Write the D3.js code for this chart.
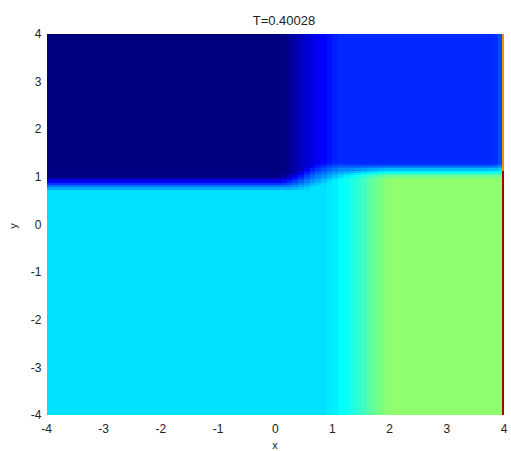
<!DOCTYPE html>
<html>
<head>
<meta charset="utf-8">
<script src="https://cdn.jsdelivr.net/npm/d3@7"></script>
<style>
  body { margin: 0; background: #fff; }
  text { font-family: "Liberation Sans", Arial, sans-serif; fill: #222; }
</style>
</head>
<body>
<div id="chart-area"></div>
<script>
// Chart data (values on a 0..1 jet scale), one entry per 0.1-wide column from x=-4 to x=4
let title = "T=0.40028";
let xTicks = [-4, -3, -2, -1, 0, 1, 2, 3, 4];
let yTicks = [4, 3, 2, 1, 0, -1, -2, -3, -4];

// level above the front
let upperLevel = [
    0, 0, 0, 0, 0, 0, 0, 0, 0, 0,
    0, 0, 0, 0, 0, 0, 0, 0, 0, 0,
    0, 0, 0, 0, 0, 0, 0, 0, 0, 0,
    0, 0, 0, 0, 0, 0, 0, 0, 0, 0,
    0, 0.005, 0.02, 0.04, 0.06, 0.08, 0.1, 0.115, 0.125, 0.14,
    0.155, 0.164, 0.164, 0.164, 0.164, 0.164, 0.164, 0.164, 0.164, 0.164,
    0.164, 0.164, 0.164, 0.164, 0.164, 0.164, 0.164, 0.164, 0.164, 0.164,
    0.164, 0.164, 0.164, 0.164, 0.164, 0.164, 0.164, 0.164, 0.17, 0.2
];

// level below the front
let lowerLevel = [
    0.345, 0.345, 0.345, 0.345, 0.345, 0.345, 0.345, 0.345, 0.345, 0.345,
    0.345, 0.345, 0.345, 0.345, 0.345, 0.345, 0.345, 0.345, 0.345, 0.345,
    0.345, 0.345, 0.345, 0.345, 0.345, 0.345, 0.345, 0.345, 0.345, 0.345,
    0.345, 0.345, 0.345, 0.345, 0.345, 0.345, 0.345, 0.345, 0.345, 0.345,
    0.345, 0.345, 0.345, 0.345, 0.345, 0.345, 0.345, 0.345, 0.345, 0.355,
    0.36, 0.375, 0.385, 0.4, 0.42, 0.44, 0.46, 0.48, 0.495, 0.51,
    0.515, 0.515, 0.515, 0.515, 0.515, 0.515, 0.515, 0.515, 0.515, 0.515,
    0.515, 0.515, 0.515, 0.515, 0.515, 0.515, 0.515, 0.515, 0.515, 0.515
];

// y position of the front and half its thickness
let frontY = [
    0.88, 0.88, 0.88, 0.88, 0.88, 0.88, 0.88, 0.88, 0.88, 0.88,
    0.88, 0.88, 0.88, 0.88, 0.88, 0.88, 0.88, 0.88, 0.88, 0.88,
    0.88, 0.88, 0.88, 0.88, 0.88, 0.88, 0.88, 0.88, 0.88, 0.88,
    0.88, 0.88, 0.88, 0.88, 0.88, 0.88, 0.88, 0.88, 0.88, 0.88,
    0.88, 0.89, 0.9, 0.92, 0.95, 0.99, 1.03, 1.07, 1.1, 1.12,
    1.14, 1.15, 1.15, 1.15, 1.15, 1.15, 1.15, 1.15, 1.15, 1.15,
    1.15, 1.15, 1.15, 1.15, 1.15, 1.15, 1.15, 1.15, 1.15, 1.15,
    1.15, 1.15, 1.15, 1.15, 1.15, 1.15, 1.15, 1.15, 1.15, 1.15
];
let frontHalfWidth = [
    0.15, 0.15, 0.15, 0.15, 0.15, 0.15, 0.15, 0.15, 0.15, 0.15,
    0.15, 0.15, 0.15, 0.15, 0.15, 0.15, 0.15, 0.15, 0.15, 0.15,
    0.15, 0.15, 0.15, 0.15, 0.15, 0.15, 0.15, 0.15, 0.15, 0.15,
    0.15, 0.15, 0.15, 0.15, 0.15, 0.15, 0.15, 0.15, 0.15, 0.15,
    0.15, 0.16, 0.18, 0.2, 0.22, 0.24, 0.25, 0.25, 0.24, 0.22,
    0.2, 0.18, 0.16, 0.15, 0.15, 0.15, 0.15, 0.15, 0.15, 0.15,
    0.15, 0.15, 0.15, 0.15, 0.15, 0.15, 0.15, 0.15, 0.15, 0.15,
    0.15, 0.15, 0.15, 0.15, 0.15, 0.15, 0.15, 0.15, 0.15, 0.15
];

// thin boundary column at x=4: [above front, below front]
let edgeColumn = [0.74, 0.96];

// Chart area
let margin = {top: 34, left: 46.5},
    width = 457.5,
    height = 381;

let svg = d3.select("#chart-area").append("svg")
    .attr("width", 511)
    .attr("height", 451);

let g = svg.append("g")
    .attr("transform", "translate(" + margin.left + "," + margin.top + ")");

// Scales
let x = d3.scaleLinear().domain([-4, 4]).range([0, width]);
let y = d3.scaleLinear().domain([-4, 4]).range([height, 0]);

let jet = d3.scaleLinear()
    .domain([0, 0.125, 0.375, 0.625, 0.875, 1])
    .range(["#000080", "#0000ff", "#00ffff", "#ffff00", "#ff0000", "#800000"])
    .clamp(true);

// Build cells
let colW = 0.1, rowH = 0.05;
let cells = [];
upperLevel.forEach((up, i) => {
    let blend = d3.scaleLinear()
        .domain([frontY[i] - frontHalfWidth[i], frontY[i] + frontHalfWidth[i]])
        .range([lowerLevel[i], up])
        .clamp(true);
    d3.range(160).forEach(j => {
        let y0 = -4 + j * rowH;
        cells.push({x0: -4 + i * colW, y0: y0, w: colW, h: rowH, v: blend(y0 + rowH / 2)});
    });
});

// edge column
d3.range(160).forEach(j => {
    let y0 = -4 + j * rowH;
    let v = (y0 + rowH / 2) > frontY[frontY.length - 1] ? edgeColumn[0] : edgeColumn[1];
    cells.push({x0: 3.972, y0: y0, w: 0.028, h: rowH, v: v});
});

// Draw cells, each overlapping its neighbour by 1px so no seams show
g.append("g")
    .attr("shape-rendering", "crispEdges")
    .selectAll(".cell")
    .data(cells)
    .enter()
    .append("rect")
    .attr("class", "cell")
    .attr("x", d => x(d.x0))
    .attr("y", d => y(d.y0 + d.h))
    .attr("width", d => x(d.x0 + d.w) - x(d.x0) + (d.x0 + d.w < 3.97 ? 1 : 0))
    .attr("height", d => y(d.y0) - y(d.y0 + d.h) + (d.y0 > -3.99 ? 1 : 0))
    .attr("fill", d => jet(d.v));

// Tick labels (no axis lines in the original)
g.selectAll(".xtick")
    .data(xTicks)
    .enter()
    .append("text")
    .attr("class", "xtick")
    .attr("x", d => x(d))
    .attr("y", height + 18)
    .attr("text-anchor", "middle")
    .style("font-size", "12px")
    .text(d => d);

g.selectAll(".ytick")
    .data(yTicks)
    .enter()
    .append("text")
    .attr("class", "ytick")
    .attr("x", -5)
    .attr("y", d => y(d))
    .attr("dy", "0.35em")
    .attr("text-anchor", "end")
    .style("font-size", "12px")
    .text(d => d);

// Title and axis labels
svg.append("text")
    .attr("x", 284)
    .attr("y", 25)
    .attr("text-anchor", "middle")
    .style("font-size", "13px")
    .text(title);

svg.append("text")
    .attr("x", 275)
    .attr("y", 449)
    .attr("text-anchor", "middle")
    .style("font-size", "11px")
    .text("x");

svg.append("text")
    .attr("transform", "translate(17,226) rotate(-90)")
    .attr("text-anchor", "middle")
    .style("font-size", "11px")
    .text("y");
</script>
</body>
</html>
